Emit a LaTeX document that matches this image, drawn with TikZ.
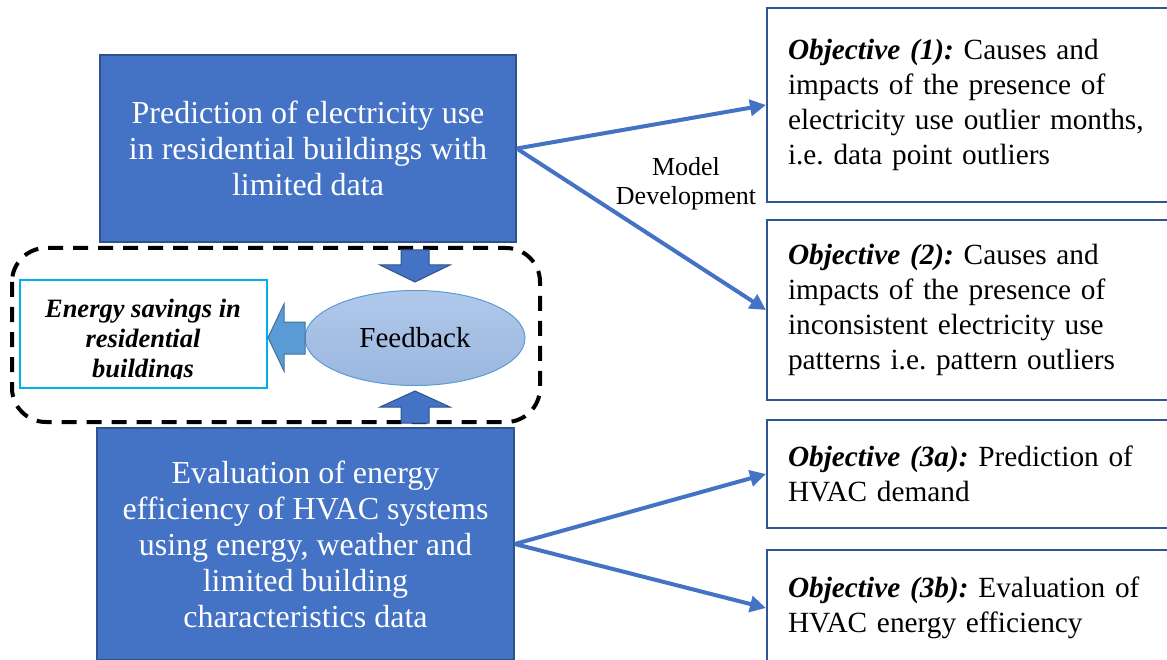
\documentclass[tikz,border=0pt]{standalone}
\usepackage{fontspec}
\setmainfont{Liberation Serif}
\usetikzlibrary{arrows.meta,shapes.geometric}
\frenchspacing
\definecolor{boxblue}{HTML}{4472C4}
\definecolor{boxedge}{HTML}{2F528F}
\definecolor{objedge}{HTML}{2F5597}
\definecolor{cyanedge}{HTML}{00B0F0}
\definecolor{fbtop}{HTML}{B0C8EA}
\definecolor{fbbot}{HTML}{9BB7DF}
\definecolor{fbedge}{HTML}{5B9BD5}
\definecolor{leftfill}{HTML}{5B9BD5}
\definecolor{leftedge}{HTML}{41719C}
\tikzset{
  bluebox/.style={draw=boxedge, line width=1.5pt, fill=boxblue, text=white,
    align=center, inner sep=0pt, font=\fontsize{32}{36}\selectfont},
  objbox/.style={draw=objedge, line width=2pt, fill=white, anchor=west,
    align=left, text width=378pt, inner xsep=21pt, inner ysep=0pt,
    minimum width=420pt, font=\fontsize{29.3}{35}\selectfont},
  link/.style={draw=boxblue, line width=4pt, -{Triangle[length=16pt,width=16pt]}},
  blockarrow/.style={fill=boxblue, draw=boxedge, line width=1pt},
}
\begin{document}
\begin{tikzpicture}[x=1pt,y=-1pt]
\useasboundingbox (0,0) rectangle (1167,660);

% left column: the two main topics
\node[bluebox, minimum width=416pt, minimum height=187pt] (pred) at (308,148.5)
  {Prediction of electricity use\\in residential buildings with\\limited data};
\node[bluebox, minimum width=417pt, minimum height=232pt] (eval) at (305.5,544)
  {Evaluation of energy\\efficiency of HVAC systems\\using energy, weather and\\limited building\\characteristics data};

% feedback loop
\draw[black, line width=4pt, dash pattern=on 15pt off 10pt, rounded corners=34pt]
  (12,248) rectangle (540,422);

\node[ellipse, draw=fbedge, line width=1pt, top color=fbtop, bottom color=fbbot,
  minimum width=220pt, minimum height=95pt, inner sep=0pt,
  font=\fontsize{29}{34}\selectfont] (fb) at (415,338) {Feedback};

\node[draw=cyanedge, line width=2.2pt, fill=white, minimum width=247pt,
  minimum height=108pt, inner sep=0pt] (save) at (143.5,334) {};
\begin{scope}
  \clip (22,282) rectangle (265,378);
  \node[align=center, inner sep=0pt, font=\fontsize{26.5}{30}\selectfont\bfseries\itshape]
    (savetxt) at (143,341) {Energy savings in\\residential\\buildings};
\end{scope}

% block arrows into and out of the feedback ellipse
\path[blockarrow] (401,250) -- (429,250) -- (429,265) -- (450,265) -- (415,282)
  -- (380,265) -- (401,265) -- cycle;
\path[blockarrow] (401,423) -- (429,423) -- (429,407) -- (450,407) -- (415,391)
  -- (380,407) -- (401,407) -- cycle;
\path[fill=leftfill, draw=leftedge, line width=1pt] (305,322) -- (305,354)
  -- (284,354) -- (284,371) -- (268,337.5) -- (284,304) -- (284,322) -- cycle;

% objectives
\node[objbox, minimum height=194pt] (o1) at (766,105)
  {\textbf{\textit{Objective (1):}} Causes and\\impacts of the presence of\\electricity use outlier months,\\i.e. data point outliers};
\node[objbox, minimum height=180pt] (o2) at (766,310)
  {\textbf{\textit{Objective (2):}} Causes and\\impacts of the presence of\\inconsistent electricity use\\patterns i.e. pattern outliers};
\node[objbox, minimum height=108pt] (o3a) at (766,474)
  {\textbf{\textit{Objective (3a):}} Prediction of\\HVAC demand};
\node[objbox, minimum height=116pt] (o3b) at (766,608)
  {\textbf{\textit{Objective (3b):}} Evaluation of\\HVAC energy efficiency};

% connectors
\draw[link] (pred.east) -- (o1.west);
\draw[link] (pred.east) -- (o2.west);
\draw[link] (eval.east) -- (o3a.west);
\draw[link] (eval.east) -- (o3b.west);

\node[align=center, inner sep=0pt, font=\fontsize{26}{29}\selectfont] (md) at (686,184)
  {Model\\Development};
\end{tikzpicture}
\end{document}
